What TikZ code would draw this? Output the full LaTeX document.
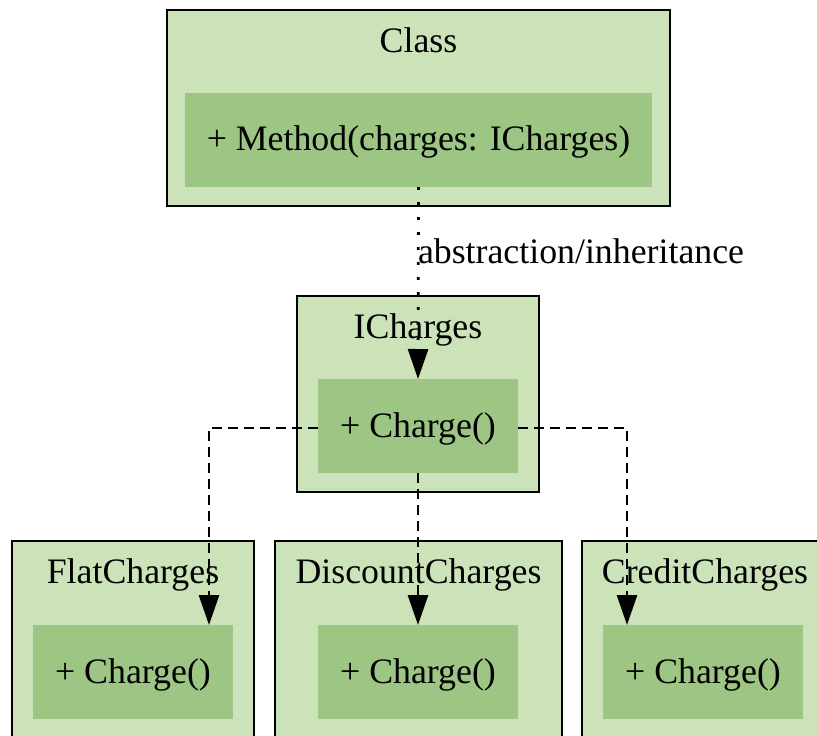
\documentclass[tikz,border=0pt]{standalone}
\usepackage{fontspec}
\setmainfont{Liberation Serif}
\usetikzlibrary{arrows.meta,calc}
\definecolor{outerfill}{HTML}{CCE3B9}
\definecolor{innerfill}{HTML}{9DC583}
\begin{document}
\begin{tikzpicture}[x=1pt,y=-1pt,
  txt/.style={font=\fontsize{35.8}{43}\selectfont,inner sep=0pt,outer sep=0pt},
  classbox/.style={draw=black,line width=2.8pt,fill=outerfill,inner sep=0pt,outer sep=0pt,
    minimum height=196pt,minimum width=#1},
  methodbox/.style={fill=innerfill,draw=none,inner sep=0pt,outer sep=0pt,
    minimum height=94pt,minimum width=#1},
  title/.style={txt,anchor=base},
  mtext/.style={txt,anchor=base},
  tip/.style={-{Triangle[length=30pt,width=20pt]}},
  realizes/.style={tip,line width=2.8pt,dash pattern=on 10pt off 6pt},
  uses/.style={tip,line width=2.8pt,dash pattern=on 2.8pt off 12.2pt},
]
\useasboundingbox (0,0) rectangle (817,736);
\clip (0,0) rectangle (817,736);

% Class
\node[classbox=503pt] (cls) at (418.5,108) {};
\node[methodbox=467pt] (cls-m) at (418.5,140) {};
\node[title] (cls-t) at (418.5,52) {Class};
\node[mtext] (cls-mt) at (418.5,150) {+ Method(charges: ICharges)};

% ICharges interface
\node[classbox=242pt] (ic) at (418,394) {};
\node[methodbox=200pt] (ic-m) at (418,426) {};
\node[title] (ic-t) at (418,338) {ICharges};
\node[mtext] (ic-mt) at (418,437) {+ Charge()};

% Implementations
\node[classbox=242pt] (flat) at (133,639) {};
\node[methodbox=200pt] (flat-m) at (133,672) {};
\node[title] (flat-t) at (133,583) {FlatCharges};
\node[mtext] (flat-mt) at (133,683) {+ Charge()};

\node[classbox=287pt] (disc) at (418.5,639) {};
\node[methodbox=200pt] (disc-m) at (418,672) {};
\node[title] (disc-t) at (418.5,583) {DiscountCharges};
\node[mtext] (disc-mt) at (418,683) {+ Charge()};

\node[classbox=242pt] (cred) at (703,639) {};
\node[methodbox=200pt] (cred-m) at (703,672) {};
\node[title] (cred-t) at (705,583) {CreditCharges};
\node[mtext] (cred-mt) at (703,683) {+ Charge()};

% arrow ends on the method boxes
\coordinate (flat-in) at ($(flat-m.north)+(76,0)$);
\coordinate (cred-in) at ($(cred-m.north)+(-76,0)$);

% dependency
\draw[uses] (cls-m.south) -- (ic-m.north);
\node[txt,anchor=base west] (dep-label) at (418,263) {abstraction/inheritance};

% realizations
\draw[realizes] ($(ic-m.west)+(0,2)$) -| (flat-in);
\draw[realizes] (ic-m.south) -- (disc-m.north);
\draw[realizes] ($(ic-m.east)+(0,2)$) -| (cred-in);
\end{tikzpicture}
\end{document}
